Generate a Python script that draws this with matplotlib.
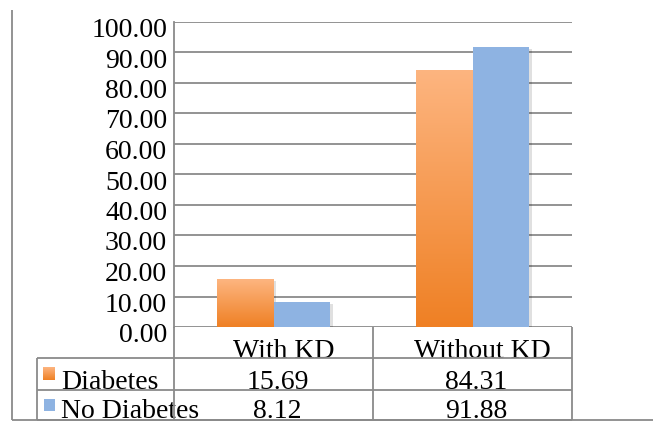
import numpy as np
import matplotlib
matplotlib.use("Agg")
import matplotlib.pyplot as plt
from matplotlib.colors import to_rgb
from matplotlib.transforms import ScaledTranslation
import matplotlib.patheffects as pe

# ---- data ----
categories = ["With KD", "Without KD"]
series_names = ["Diabetes", "No Diabetes"]
diabetes = [15.69, 84.31]
no_diabetes = [8.12, 91.88]
y_ticks = [0, 10, 20, 30, 40, 50, 60, 70, 80, 90, 100]

# ---- style ----
FONT = "Liberation Serif"
FS = 20
GRID = "#8a8a8a"
ORANGE_TOP = "#fdb580"
ORANGE_BOT = "#ef8024"
BLUE = "#8eb3e2"

plt.rcParams["font.family"] = [FONT, "DejaVu Serif"]

W, H = 653, 423
fig = plt.figure(figsize=(W / 100, H / 100), dpi=100)

# plot area in pixel units (left, top, right, bottom)
PL, PT, PR, PB = 174, 22, 572, 327
ax = fig.add_axes([PL / W, (H - PB) / H, (PR - PL) / W, (PB - PT) / H])
ax.set_xlim(-0.5, len(categories) - 0.5)
ax.set_ylim(0, 100)
for s in ["top", "right", "bottom"]:
    ax.spines[s].set_visible(False)
ax.spines["left"].set_color(GRID)
ax.spines["left"].set_linewidth(1.3)
ax.set_xticks([])
ax.set_yticks(y_ticks)
ax.tick_params(axis="y", length=0, labelleft=False)
ax.yaxis.grid(True, color=GRID, linewidth=1.3)
ax.set_axisbelow(True)

# y tick labels, sitting slightly below their gridlines
lab_off = ScaledTranslation(-7 / 100, -8.5 / 100, fig.dpi_scale_trans)
for t in y_ticks:
    ax.text(0, t, f"{t:.2f}", transform=ax.get_yaxis_transform() + lab_off,
            ha="right", va="center", fontsize=FS, color="black")

# bars
bw = 0.2864
x = np.arange(len(categories))
shadow = [pe.SimplePatchShadow(offset=(1.5, -1.5), shadow_rgbFace="#000000", alpha=0.12), pe.Normal()]
bars_d = ax.bar(x - bw / 2, diabetes, bw, color=ORANGE_BOT, linewidth=0, zorder=3)
bars_n = ax.bar(x + bw / 2, no_diabetes, bw, color=BLUE, linewidth=0, zorder=3)
for b in list(bars_d) + list(bars_n):
    b.set_path_effects(shadow)

# vertical orange gradient over each Diabetes bar
n = 256
t0 = np.array(to_rgb(ORANGE_BOT))
t1 = np.array(to_rgb(ORANGE_TOP))
grad = (t0[None, :] + (t1 - t0)[None, :] * np.linspace(0, 1, n)[:, None])[:, None, :]
for b in bars_d:
    x0, y0 = b.get_x(), b.get_y()
    im = ax.imshow(grad, extent=[x0, x0 + b.get_width(), y0, y0 + b.get_height()],
                   origin="lower", aspect="auto", zorder=3.5, interpolation="bilinear")
    im.set_clip_path(b)
ax.set_xlim(-0.5, len(categories) - 0.5)
ax.set_ylim(0, 100)

# ---- overlay in pixel coordinates: frame and data table ----
ov = fig.add_axes([0, 0, 1, 1], zorder=5)
ov.set_xlim(0, W)
ov.set_ylim(H, 0)
ov.axis("off")

lw = 1.3
LZ = 4  # table lines sit over the cell text
# outer frame (left and bottom)
ov.plot([12, 12], [10, 420], color=GRID, lw=lw, solid_capstyle="butt", zorder=LZ)
ov.plot([12, W], [420, 420], color=GRID, lw=lw, solid_capstyle="butt", zorder=LZ)

TL = 37
col_edges = [PL, 373, PR]
row_edges = [PB, 358, 390, 420]
for y in row_edges[1:]:
    ov.plot([TL, PR], [y, y], color=GRID, lw=lw, solid_capstyle="butt", zorder=LZ)
for xe in col_edges:
    ov.plot([xe, xe], [PB, 420], color=GRID, lw=lw, solid_capstyle="butt", zorder=LZ)
ov.plot([TL, TL], [358, 420], color=GRID, lw=lw, solid_capstyle="butt", zorder=LZ)


def cell_text(xp, yp, s, ha="center"):
    return ov.text(xp, yp, s, ha=ha, va="baseline", fontsize=FS, color="black", zorder=2)


centers = [(col_edges[i] + col_edges[i + 1]) / 2 for i in range(len(categories))]
# header row
for cx, cat in zip(centers, categories):
    cell_text(cx + 10, 358, cat)

# value rows
rows = [diabetes, no_diabetes]
baselines = [389, 418]
for vals, name, bl in zip(rows, series_names, baselines):
    for cx, v in zip(centers, vals):
        cell_text(cx + 4, bl, f"{v:.2f}")
    cell_text(61, bl, name, ha="left")

# legend keys inside the table
ov.imshow(grad, extent=[43, 55, 380, 367], origin="lower", aspect="auto",
          interpolation="bilinear", zorder=6)
ov.add_patch(plt.Rectangle((44, 399), 11, 12, facecolor=BLUE, edgecolor="none", zorder=6))
ov.set_xlim(0, W)
ov.set_ylim(H, 0)

fig.savefig("out.png", dpi=100)
